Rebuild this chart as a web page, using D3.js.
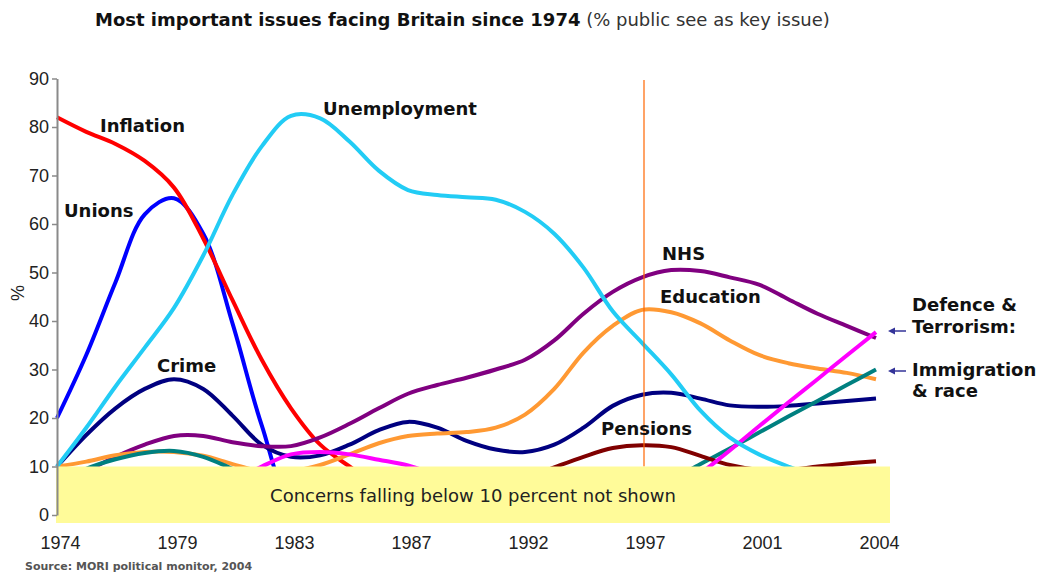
<!DOCTYPE html>
<html>
<head>
<meta charset="utf-8">
<script src="https://cdn.jsdelivr.net/npm/d3@7"></script>
<style>
  body { margin: 0; background: #fff; }
  svg { display: block; }
</style>
</head>
<body>
<svg id="chart" width="1049" height="573"></svg>
<script>
// x axis: 7 labelled intervals, 4 readings in each
let tickLabels = ["1974", "1979", "1983", "1987", "1992", "1997", "2001", "2004"]
let stepsPerLabel = 4
let yTicks = [0, 10, 20, 30, 40, 50, 60, 70, 80, 90]

// % of public naming the issue (values under 10 are hidden)
let inflation    = [82, 79, 76.5, 73, 67.5, 57, 44.3, 32, 22, 14.5, 10, 6, 5, 5, 5, 5, 5, 5, 5, 5, 5, 5, 5, 5, 5, 5, 5, 5, 5]
let unions       = [20, 33, 48, 62, 65.3, 58, 39.5, 18.5, 3, 3, 3, 3, 3, 3, 3, 3, 3, 3, 3, 3, 3, 3, 3, 3, 3, 3, 3, 3, 3]
let unemployment = [10, 18, 26.5, 34.5, 42.7, 53.5, 66, 76, 82.3, 81.8, 77, 71, 67, 66, 65.5, 65, 62.5, 58, 51, 42, 35.5, 29, 21.5, 16, 12.5, 10, 8, 7, 7]
let crime        = [10, 16.5, 22, 26, 28, 26, 20.5, 14.5, 12, 12.3, 14.5, 17.5, 19.2, 18, 15.3, 13.5, 13, 14.5, 18, 22.5, 24.8, 25.2, 24, 22.6, 22.3, 22.5, 23, 23.5, 24]
let nhs          = [6, 9, 12, 14.5, 16.3, 16.3, 15, 14.2, 14.2, 16, 18.8, 22, 25, 26.8, 28.3, 30, 32, 36, 41.5, 46, 49, 50.5, 50.3, 49, 47.5, 44.5, 41.5, 39, 36.5]
let education    = [10, 11, 12.3, 13, 13, 12.2, 10.5, 9, 9, 10.3, 12.5, 14.8, 16.3, 16.8, 17.1, 18, 20.7, 26, 33.5, 39, 42.3, 41.8, 39.5, 36, 33, 31.3, 30.2, 29.3, 28]
let immigration  = [6, 9.5, 11.5, 12.8, 13.2, 12, 9.5, 7, 5, 4, 4, 4, 4, 4, 4, 4, 4, 4, 4, 4, 4.5, 7.2, 10.5, 13.7, 17, 20.3, 23.5, 26.8, 30]
let pensions     = [3, 3, 3, 3, 3, 3, 3, 3, 3, 3, 3, 3, 4, 5, 5.5, 6, 7.5, 9.8, 12, 13.8, 14.4, 14, 12.2, 10.3, 9.3, 9.3, 10, 10.6, 11.1]
let defence      = [2, 2, 3, 3, 4, 5, 7, 10, 12.5, 13, 12.5, 11.4, 10.2, 8, 5, 3, 3, 3, 3, 3, 3.5, 3.6, 8.5, 13.3, 18.3, 23.2, 28, 32.9, 37.7]

let series = [
    { name: "Unions", values: unions, color: "#0000ff" },
    { name: "Inflation", values: inflation, color: "#ff0000" },
    { name: "Crime", values: crime, color: "#000080" },
    { name: "NHS", values: nhs, color: "#800080" },
    { name: "Education", values: education, color: "#ff9933" },
    { name: "Immigration", values: immigration, color: "#008080" },
    { name: "Pensions", values: pensions, color: "#800000" },
    { name: "Defence", values: defence, color: "#ff00ff" },
    { name: "Unemployment", values: unemployment, color: "#22ccf5" }
]

let svg = d3.select("#chart")
let lastIdx = (tickLabels.length - 1) * stepsPerLabel

let x = d3.scaleLinear().domain([0, lastIdx]).range([57, 876])
let y = d3.scaleLinear().domain([0, 90]).range([515, 78.5])

// title
let title = svg.append("text")
    .attr("x", 95).attr("y", 26)
    .style("font-family", "DejaVu Sans")
    .style("font-size", "18px")
title.append("tspan").text("Most important issues facing Britain since 1974")
    .style("font-weight", "bold").attr("fill", "#111")
title.append("tspan").text(" (% public see as key issue)").attr("fill", "#333")

let line = d3.line()
    .x((d, i) => x(i))
    .y(d => y(d))
    .curve(d3.curveCatmullRom.alpha(0.5))

svg.append("g").selectAll("path")
    .data(series)
    .enter()
    .append("path")
    .attr("d", d => line(d.values))
    .attr("fill", "none")
    .attr("stroke", d => d.color)
    .attr("stroke-width", 4)

// 1997 marker
let x1997 = x(5 * stepsPerLabel) + 2
svg.append("line")
    .attr("x1", x1997).attr("x2", x1997)
    .attr("y1", y(89.7)).attr("y2", y(10))
    .attr("stroke", "#ff6600").attr("stroke-width", 1.2)

// box hiding the under-10 region
svg.append("rect")
    .attr("x", 56).attr("y", y(10))
    .attr("width", 834).attr("height", 523 - y(10))
    .attr("fill", "#fffb99")
svg.append("text")
    .attr("x", 473).attr("y", 502)
    .attr("text-anchor", "middle")
    .style("font-family", "DejaVu Sans")
    .style("font-size", "18px")
    .attr("fill", "#222")
    .text("Concerns falling below 10 percent not shown")

// y axis
let yAxis = svg.append("g")
    .attr("transform", "translate(57,0)")
    .call(d3.axisLeft(y).tickValues(yTicks).tickSize(5).tickSizeOuter(0).tickPadding(3))
yAxis.select(".domain").attr("stroke", "#8a8a8a").attr("stroke-width", 2)
yAxis.selectAll(".tick line").attr("stroke", "#8a8a8a").attr("stroke-width", 1.5)
yAxis.selectAll("text")
    .style("font-family", "Liberation Sans")
    .style("font-size", "18px")
    .attr("fill", "#222")

svg.append("text")
    .attr("transform", "translate(24,293) rotate(-90)")
    .attr("text-anchor", "middle")
    .style("font-family", "Liberation Sans")
    .style("font-size", "18px")
    .attr("fill", "#222")
    .text("%")

// x axis
let xAxis = svg.append("g")
    .attr("transform", "translate(3,533)")
    .call(d3.axisBottom(x)
        .tickValues(tickLabels.map((t, i) => i * stepsPerLabel))
        .tickFormat((d, i) => tickLabels[i])
        .tickSize(0))
xAxis.select(".domain").remove()
xAxis.selectAll("text")
    .style("font-family", "Liberation Sans")
    .style("font-size", "18px")
    .attr("fill", "#222")

// series labels
let labels = [
    ["Inflation", 100, 132],
    ["Unemployment", 323, 115],
    ["Unions", 64, 217],
    ["Crime", 157, 372],
    ["NHS", 662, 260],
    ["Education", 660, 303],
    ["Pensions", 601, 435],
    ["Defence &", 912, 311],
    ["Terrorism:", 912, 333],
    ["Immigration", 912, 376],
    ["& race", 912, 397]
]
svg.append("g").selectAll("text")
    .data(labels)
    .enter()
    .append("text")
    .attr("x", d => d[1]).attr("y", d => d[2])
    .style("font-family", "DejaVu Sans")
    .style("font-weight", "bold")
    .style("font-size", "18px")
    .attr("fill", "#111")
    .text(d => d[0])

// little arrows pointing back at the right-hand line ends
let arrowY = [331, 371]
arrowY.forEach(ay => {
    svg.append("line")
        .attr("x1", 906).attr("x2", 893)
        .attr("y1", ay).attr("y2", ay)
        .attr("stroke", "#333399").attr("stroke-width", 1.5)
    svg.append("path")
        .attr("d", `M888,${ay} L895,${ay - 3.5} L895,${ay + 3.5} Z`)
        .attr("fill", "#333399")
})

svg.append("text")
    .attr("x", 25).attr("y", 570)
    .style("font-family", "DejaVu Sans")
    .style("font-weight", "bold")
    .style("font-size", "11px")
    .attr("fill", "#555")
    .text("Source: MORI political monitor, 2004")
</script>
</body>
</html>
